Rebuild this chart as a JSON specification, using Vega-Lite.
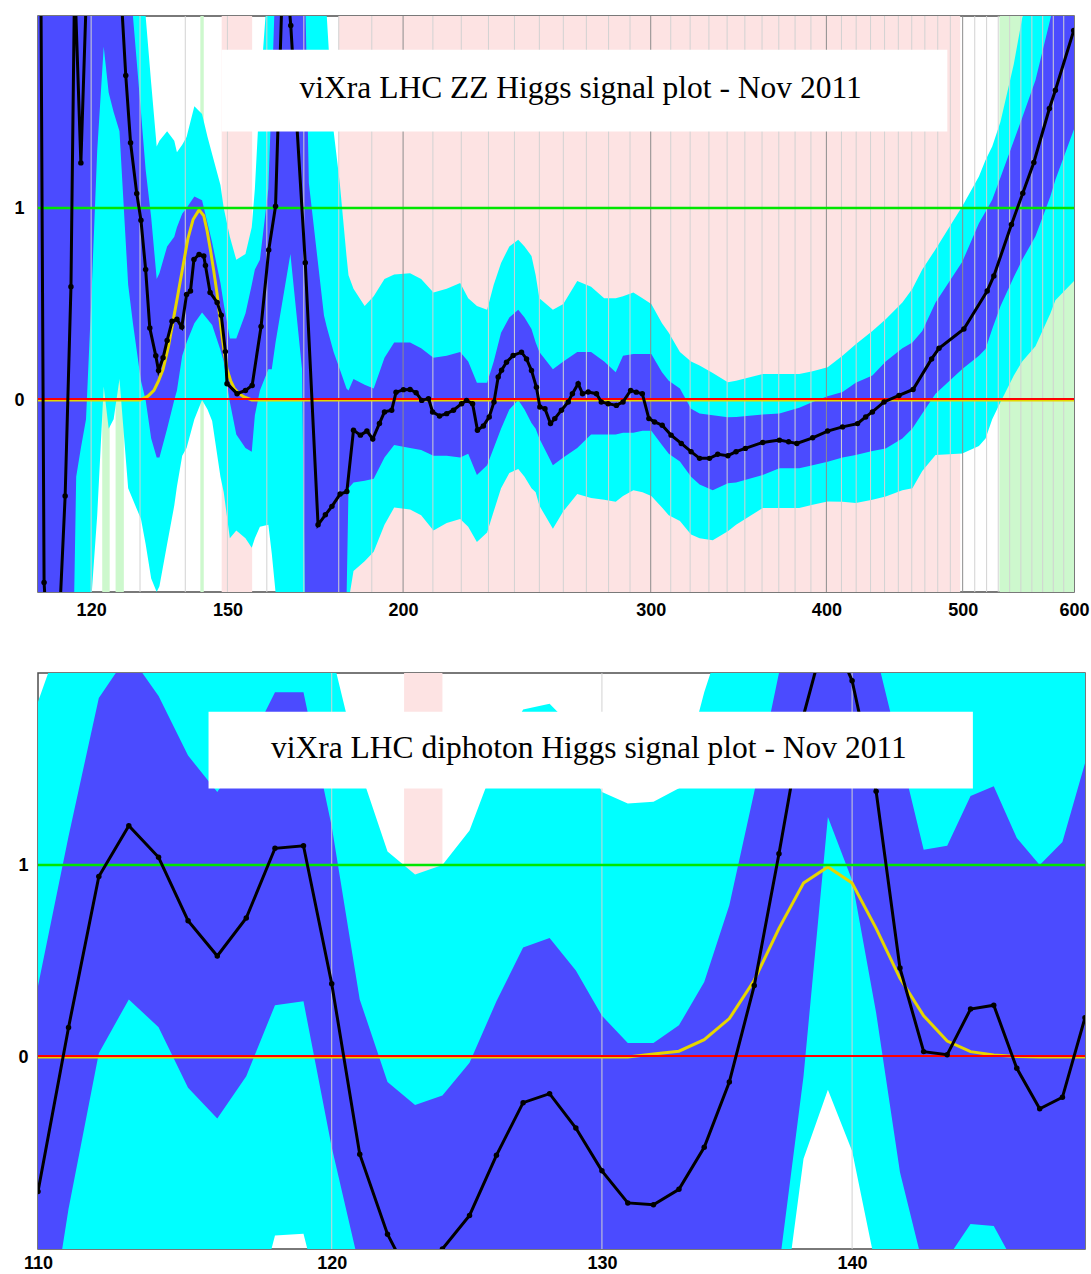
{
"$schema": "https://vega.github.io/schema/vega-lite/v6.json",
"padding": {"left": 13, "top": 14, "right": 0, "bottom": 0},
"background": "white",
"config": {
  "view": {"stroke": "#4d4d4d", "strokeWidth": 1.5},
  "axis": {"ticks": false, "tickSize": 0, "domain": false, "grid": false, "labelFont": "Liberation Sans", "labelFontSize": 18, "labelFontWeight": "bold", "labelColor": "#000000", "labelFlush": false, "labelOverlap": false, "labelBound": false, "title": null}
},
"datasets": {
  "top_bg": [
    {"lo": 148.6, "hi": 156.2, "kind": "pink"},
    {"lo": 180, "hi": 498, "kind": "pink"},
    {"lo": 122.2, "hi": 123.7, "kind": "green"},
    {"lo": 124.9, "hi": 126.6, "kind": "green"},
    {"lo": 143.5, "hi": 144.3, "kind": "green"},
    {"lo": 531, "hi": 600, "kind": "green"}
  ],
  "top_band": [
    {"m":110,"bl":-4,"bh":8,"cl":-6,"ch":10},
    {"m":111.1,"bl":-3.5,"bh":3,"cl":-6,"ch":6},
    {"m":114,"bl":-3.5,"bh":3,"cl":-6,"ch":6},
    {"m":116.1,"bl":-2,"bh":4,"cl":-4,"ch":6},
    {"m":117.1,"bl":-0.4,"bh":4,"cl":-1.8,"ch":6},
    {"m":118,"bl":-0.25,"bh":3.5,"cl":-1.5,"ch":6},
    {"m":119,"bl":-0.1,"bh":4,"cl":-1.3,"ch":6},
    {"m":120,"bl":0.5,"bh":5,"cl":-1.05,"ch":7},
    {"m":121.2,"bl":1.3,"bh":5,"cl":-0.6,"ch":7},
    {"m":122.5,"bl":1.84,"bh":5,"cl":0.07,"ch":7},
    {"m":123.5,"bl":1.6,"bh":5,"cl":-0.15,"ch":7},
    {"m":124.5,"bl":1.5,"bh":5,"cl":-0.1,"ch":7},
    {"m":125.7,"bl":1.4,"bh":5,"cl":0.11,"ch":7},
    {"m":127.5,"bl":0.6,"bh":3,"cl":-0.46,"ch":5},
    {"m":128.5,"bl":0.4,"bh":2.0,"cl":-0.52,"ch":4},
    {"m":130.2,"bl":0.1,"bh":1.5,"cl":-0.62,"ch":3},
    {"m":131.2,"bl":0.0,"bh":1.2,"cl":-0.75,"ch":2.0},
    {"m":132.4,"bl":-0.2,"bh":0.95,"cl":-0.93,"ch":1.65},
    {"m":133.6,"bl":-0.3,"bh":0.63,"cl":-1.0,"ch":1.32},
    {"m":134.2,"bl":-0.3,"bh":0.66,"cl":-0.97,"ch":1.35},
    {"m":135.9,"bl":-0.15,"bh":0.8,"cl":-0.75,"ch":1.4},
    {"m":137.5,"bl":0.0,"bh":0.85,"cl":-0.55,"ch":1.35},
    {"m":138.1,"bl":0.05,"bh":0.9,"cl":-0.45,"ch":1.29},
    {"m":139.3,"bl":0.23,"bh":0.97,"cl":-0.29,"ch":1.33},
    {"m":140.3,"bl":0.3,"bh":1.0,"cl":-0.25,"ch":1.37},
    {"m":142.1,"bl":0.4,"bh":1.06,"cl":-0.1,"ch":1.53},
    {"m":143.9,"bl":0.456,"bh":1.04,"cl":0.0,"ch":1.49},
    {"m":145.2,"bl":0.42,"bh":0.92,"cl":-0.05,"ch":1.37},
    {"m":146.3,"bl":0.39,"bh":0.82,"cl":-0.11,"ch":1.28},
    {"m":148.3,"bl":0.26,"bh":0.61,"cl":-0.4,"ch":1.12},
    {"m":149.1,"bl":0.2,"bh":0.5,"cl":-0.48,"ch":1.0},
    {"m":150.6,"bl":-0.01,"bh":0.32,"cl":-0.72,"ch":0.85},
    {"m":152.2,"bl":-0.18,"bh":0.32,"cl":-0.68,"ch":0.73},
    {"m":154.5,"bl":-0.25,"bh":0.45,"cl":-0.72,"ch":0.76},
    {"m":156.1,"bl":-0.27,"bh":0.6,"cl":-0.77,"ch":0.9},
    {"m":156.9,"bl":-0.08,"bh":0.68,"cl":-0.72,"ch":1.1},
    {"m":158.2,"bl":0.05,"bh":0.73,"cl":-0.66,"ch":1.6},
    {"m":160.4,"bl":0.16,"bh":1.1,"cl":-0.65,"ch":2.2},
    {"m":161.3,"bl":0.16,"bh":1.6,"cl":-0.8,"ch":2.6},
    {"m":162.3,"bl":0.3,"bh":2.2,"cl":-1.0,"ch":3.5},
    {"m":166.3,"bl":0.76,"bh":3.2,"cl":-1.5,"ch":4.5},
    {"m":169.5,"bl":0.16,"bh":2.3,"cl":-2.0,"ch":3.5},
    {"m":170.4,"bl":-1.2,"bh":2.1,"cl":-2.5,"ch":3.3},
    {"m":171.4,"bl":-1.5,"bh":1.13,"cl":-2.5,"ch":2.8},
    {"m":175.7,"bl":-2.0,"bh":0.44,"cl":-3,"ch":2.1},
    {"m":176.5,"bl":-1.9,"bh":0.38,"cl":-3,"ch":2.0},
    {"m":178.5,"bl":-1.5,"bh":0.25,"cl":-2.5,"ch":1.4},
    {"m":180.3,"bl":-1.2,"bh":0.16,"cl":-2,"ch":1.13},
    {"m":182.3,"bl":-1.05,"bh":0.06,"cl":-1.5,"ch":0.75},
    {"m":182.9,"bl":-0.46,"bh":0.05,"cl":-1.05,"ch":0.65},
    {"m":184.4,"bl":-0.43,"bh":0.11,"cl":-0.89,"ch":0.58},
    {"m":187.8,"bl":-0.42,"bh":0.08,"cl":-0.84,"ch":0.49},
    {"m":190.6,"bl":-0.41,"bh":0.06,"cl":-0.79,"ch":0.54},
    {"m":194,"bl":-0.3,"bh":0.22,"cl":-0.65,"ch":0.63},
    {"m":197.1,"bl":-0.235,"bh":0.3,"cl":-0.56,"ch":0.654},
    {"m":202.3,"bl":-0.25,"bh":0.3,"cl":-0.57,"ch":0.66},
    {"m":206,"bl":-0.26,"bh":0.27,"cl":-0.6,"ch":0.63},
    {"m":210.2,"bl":-0.29,"bh":0.22,"cl":-0.68,"ch":0.56},
    {"m":214.8,"bl":-0.29,"bh":0.23,"cl":-0.64,"ch":0.58},
    {"m":219.6,"bl":-0.3,"bh":0.25,"cl":-0.62,"ch":0.61},
    {"m":222.5,"bl":-0.28,"bh":0.2,"cl":-0.66,"ch":0.53},
    {"m":225.7,"bl":-0.39,"bh":0.09,"cl":-0.74,"ch":0.49},
    {"m":229.5,"bl":-0.34,"bh":0.09,"cl":-0.69,"ch":0.47},
    {"m":232,"bl":-0.25,"bh":0.2,"cl":-0.58,"ch":0.6},
    {"m":234.8,"bl":-0.15,"bh":0.35,"cl":-0.46,"ch":0.714},
    {"m":238,"bl":-0.05,"bh":0.43,"cl":-0.38,"ch":0.8},
    {"m":241.5,"bl":0.0,"bh":0.47,"cl":-0.36,"ch":0.835},
    {"m":244,"bl":-0.05,"bh":0.43,"cl":-0.4,"ch":0.8},
    {"m":246.8,"bl":-0.12,"bh":0.37,"cl":-0.46,"ch":0.75},
    {"m":248.5,"bl":-0.15,"bh":0.3,"cl":-0.48,"ch":0.65},
    {"m":250,"bl":-0.2,"bh":0.25,"cl":-0.55,"ch":0.53},
    {"m":255.6,"bl":-0.34,"bh":0.16,"cl":-0.67,"ch":0.47},
    {"m":260,"bl":-0.3,"bh":0.2,"cl":-0.58,"ch":0.5},
    {"m":266,"bl":-0.25,"bh":0.25,"cl":-0.49,"ch":0.62},
    {"m":272.1,"bl":-0.18,"bh":0.25,"cl":-0.51,"ch":0.59},
    {"m":278,"bl":-0.18,"bh":0.2,"cl":-0.52,"ch":0.53},
    {"m":283.3,"bl":-0.18,"bh":0.145,"cl":-0.53,"ch":0.53},
    {"m":286.7,"bl":-0.17,"bh":0.23,"cl":-0.5,"ch":0.54},
    {"m":291.6,"bl":-0.17,"bh":0.24,"cl":-0.47,"ch":0.56},
    {"m":296,"bl":-0.16,"bh":0.24,"cl":-0.48,"ch":0.53},
    {"m":300.3,"bl":-0.16,"bh":0.24,"cl":-0.5,"ch":0.5},
    {"m":305.6,"bl":-0.235,"bh":0.145,"cl":-0.56,"ch":0.4},
    {"m":309,"bl":-0.28,"bh":0.1,"cl":-0.6,"ch":0.35},
    {"m":314.7,"bl":-0.32,"bh":0.06,"cl":-0.63,"ch":0.25},
    {"m":320.5,"bl":-0.4,"bh":-0.045,"cl":-0.7,"ch":0.2},
    {"m":325,"bl":-0.44,"bh":-0.07,"cl":-0.72,"ch":0.18},
    {"m":332.1,"bl":-0.47,"bh":-0.08,"cl":-0.73,"ch":0.14},
    {"m":340.4,"bl":-0.433,"bh":-0.09,"cl":-0.684,"ch":0.093},
    {"m":345,"bl":-0.43,"bh":-0.088,"cl":-0.65,"ch":0.1},
    {"m":360.4,"bl":-0.39,"bh":-0.075,"cl":-0.563,"ch":0.136},
    {"m":370.4,"bl":-0.356,"bh":-0.07,"cl":-0.563,"ch":0.136},
    {"m":382.6,"bl":-0.356,"bh":-0.04,"cl":-0.563,"ch":0.136},
    {"m":391.1,"bl":-0.34,"bh":-0.01,"cl":-0.545,"ch":0.15},
    {"m":400.8,"bl":-0.321,"bh":0.02,"cl":-0.528,"ch":0.17},
    {"m":410.7,"bl":-0.3,"bh":0.042,"cl":-0.53,"ch":0.23},
    {"m":419.7,"bl":-0.287,"bh":0.09,"cl":-0.537,"ch":0.29},
    {"m":431.3,"bl":-0.265,"bh":0.128,"cl":-0.52,"ch":0.36},
    {"m":440.8,"bl":-0.252,"bh":0.2,"cl":-0.503,"ch":0.421},
    {"m":453,"bl":-0.2,"bh":0.27,"cl":-0.47,"ch":0.508},
    {"m":460.5,"bl":-0.148,"bh":0.3,"cl":-0.459,"ch":0.58},
    {"m":468,"bl":-0.07,"bh":0.36,"cl":-0.37,"ch":0.68},
    {"m":478.3,"bl":0.033,"bh":0.508,"cl":-0.287,"ch":0.785},
    {"m":499.7,"bl":0.162,"bh":0.72,"cl":-0.278,"ch":1.009},
    {"m":513.5,"bl":0.23,"bh":0.92,"cl":-0.24,"ch":1.164},
    {"m":519.1,"bl":0.266,"bh":0.98,"cl":-0.2,"ch":1.25},
    {"m":524.8,"bl":0.37,"bh":1.043,"cl":-0.1,"ch":1.32},
    {"m":532,"bl":0.49,"bh":1.16,"cl":-0.01,"ch":1.45},
    {"m":543.7,"bl":0.64,"bh":1.35,"cl":0.128,"ch":1.75},
    {"m":551.2,"bl":0.73,"bh":1.47,"cl":0.2,"ch":1.99},
    {"m":563.3,"bl":0.853,"bh":1.665,"cl":0.28,"ch":2.2},
    {"m":577.2,"bl":1.06,"bh":1.985,"cl":0.45,"ch":2.5},
    {"m":582,"bl":1.147,"bh":2.1,"cl":0.52,"ch":2.6},
    {"m":600,"bl":1.41,"bh":2.5,"cl":0.62,"ch":3.0}
  ],
  "top_grid_light": [
    {"m":120},{"m":130},{"m":140},{"m":150},{"m":160},{"m":170},{"m":180},{"m":190},
    {"m":210},{"m":220},{"m":230},{"m":240},{"m":250},{"m":260},{"m":270},{"m":280},{"m":290},
    {"m":310},{"m":320},{"m":330},{"m":340},{"m":350},{"m":360},{"m":370},{"m":380},{"m":390},
    {"m":410},{"m":420},{"m":430},{"m":440},{"m":450},{"m":460},{"m":470},{"m":480},{"m":490},
    {"m":510},{"m":520},{"m":530},{"m":540},{"m":550},{"m":560},{"m":570},{"m":580},{"m":590}
  ],
  "top_grid_dark": [{"m":200},{"m":300},{"m":400},{"m":500}],
  "top_signal": [
    {"m":110,"s":0},{"m":130,"s":0},{"m":131.7,"s":0.02},{"m":133,"s":0.05},{"m":134,"s":0.1},
    {"m":135,"s":0.16},{"m":136.2,"s":0.28},{"m":137.3,"s":0.42},{"m":138.4,"s":0.56},{"m":139.5,"s":0.7},
    {"m":140.6,"s":0.84},{"m":141.8,"s":0.94},{"m":143.2,"s":0.99},{"m":144.3,"s":0.96},{"m":145.1,"s":0.88},
    {"m":145.9,"s":0.78},{"m":146.7,"s":0.67},{"m":147.5,"s":0.55},{"m":148.1,"s":0.44},{"m":148.7,"s":0.33},
    {"m":149.3,"s":0.24},{"m":149.9,"s":0.16},{"m":150.8,"s":0.1},{"m":151.7,"s":0.06},{"m":152.8,"s":0.035},
    {"m":154,"s":0.017},{"m":156.1,"s":0},{"m":600,"s":0}
  ],
  "top_obs": [
    {"m":110,"v":5.0},{"m":111.1,"v":-0.95},{"m":112,"v":-1.4},{"m":113,"v":-1.6},{"m":114,"v":-1.1},
    {"m":115,"v":-0.5},{"m":116.1,"v":0.59},{"m":116.8,"v":2.2},{"m":118,"v":1.235},{"m":119,"v":2.06},
    {"m":120,"v":3.0},{"m":121,"v":4.0},{"m":122,"v":4.0},{"m":123,"v":4.0},{"m":124,"v":3.5},
    {"m":125,"v":3.0},{"m":126,"v":2.13},{"m":127,"v":1.69},{"m":128,"v":1.34},{"m":129.3,"v":1.076},
    {"m":130.2,"v":0.936},{"m":131.2,"v":0.68},{"m":132.1,"v":0.375},{"m":133.4,"v":0.23},{"m":134,"v":0.153},
    {"m":135,"v":0.22},{"m":135.9,"v":0.31},{"m":137,"v":0.41},{"m":138.1,"v":0.42},{"m":139.2,"v":0.38},
    {"m":140.3,"v":0.55},{"m":141.2,"v":0.568},{"m":142,"v":0.732},{"m":143.2,"v":0.758},{"m":144.3,"v":0.75},
    {"m":144.7,"v":0.7},{"m":145.8,"v":0.56},{"m":147.5,"v":0.508},{"m":148.5,"v":0.442},{"m":149.5,"v":0.252},
    {"m":149.9,"v":0.085},{"m":152.4,"v":0.033},{"m":154.5,"v":0.05},{"m":156.2,"v":0.076},{"m":158.5,"v":0.383},
    {"m":160.5,"v":0.781},{"m":162.3,"v":1.009},{"m":164.5,"v":2.4},{"m":166.4,"v":1.95},{"m":170.4,"v":0.715},
    {"m":174,"v":-0.65},{"m":176.1,"v":-0.598},{"m":178,"v":-0.554},{"m":180.4,"v":-0.49},{"m":182.4,"v":-0.477},
    {"m":184.4,"v":-0.157},{"m":186.5,"v":-0.183},{"m":188.5,"v":-0.162},{"m":190.3,"v":-0.203},{"m":192.4,"v":-0.122},
    {"m":194,"v":-0.062},{"m":196.3,"v":-0.053},{"m":197.7,"v":0.04},{"m":200.1,"v":0.054},{"m":202.3,"v":0.055},
    {"m":204.3,"v":0.038},{"m":206.2,"v":-0.002},{"m":208.5,"v":0.007},{"m":209.9,"v":-0.062},{"m":212.3,"v":-0.083},
    {"m":214.8,"v":-0.071},{"m":217.2,"v":-0.053},{"m":220.1,"v":-0.019},{"m":221.9,"v":-0.002},{"m":224.1,"v":-0.019},
    {"m":225.9,"v":-0.157},{"m":228.1,"v":-0.135},{"m":230.3,"v":-0.088},{"m":232.1,"v":-0.01},{"m":233.7,"v":0.12},
    {"m":235,"v":0.155},{"m":236.9,"v":0.197},{"m":239.5,"v":0.232},{"m":242.8,"v":0.249},{"m":244.8,"v":0.214},
    {"m":246.8,"v":0.154},{"m":248.8,"v":0.066},{"m":250.2,"v":-0.036},{"m":252.3,"v":-0.045},{"m":254.6,"v":-0.123},
    {"m":256.4,"v":-0.097},{"m":259.2,"v":-0.053},{"m":262.1,"v":-0.01},{"m":263.9,"v":0.033},{"m":266.4,"v":0.085},
    {"m":268.3,"v":0.033},{"m":270.8,"v":0.042},{"m":274.5,"v":0.033},{"m":276.7,"v":-0.01},{"m":279.8,"v":-0.019},
    {"m":283.6,"v":-0.028},{"m":286.7,"v":-0.01},{"m":290.3,"v":0.05},{"m":293,"v":0.041},{"m":295.9,"v":0.033},
    {"m":299.1,"v":-0.097},{"m":301.9,"v":-0.114},{"m":305.7,"v":-0.131},{"m":310.2,"v":-0.183},{"m":315.4,"v":-0.226},
    {"m":320.5,"v":-0.269},{"m":325,"v":-0.304},{"m":330.3,"v":-0.304},{"m":334.8,"v":-0.283},{"m":340.4,"v":-0.29},
    {"m":345,"v":-0.269},{"m":350.3,"v":-0.252},{"m":360.4,"v":-0.221},{"m":370.4,"v":-0.209},{"m":376,"v":-0.218},
    {"m":381.1,"v":-0.226},{"m":391.1,"v":-0.197},{"m":400.8,"v":-0.162},{"m":410.7,"v":-0.14},{"m":420.9,"v":-0.123},
    {"m":426.6,"v":-0.088},{"m":431.3,"v":-0.062},{"m":439.6,"v":-0.01},{"m":450.5,"v":0.024},{"m":461,"v":0.055},
    {"m":475.2,"v":0.214},{"m":481,"v":0.269},{"m":501,"v":0.37},{"m":520.5,"v":0.568},{"m":526.2,"v":0.646},
    {"m":541.6,"v":0.914},{"m":551.7,"v":1.077},{"m":561.8,"v":1.237},{"m":576.3,"v":1.518},{"m":582,"v":1.613},
    {"m":599.7,"v":1.924}
  ],
  "top_box": [{"x1":148.6,"x2":487.6,"y1":1.399,"y2":1.824}],
  "top_title": [{"m":267.5,"v":1.62,"label":"viXra LHC ZZ Higgs signal plot - Nov 2011"}],
  "zero_line": [{"v":0}],
  "one_line": [{"v":1}],
  "bot_bg": [{"lo":122.6,"hi":124.0,"kind":"pink"}],
  "bot_band": [
    {"m":110,"bl":-1.8,"bh":0.37,"cl":-3,"ch":1.85},
    {"m":111,"bl":-0.79,"bh":1.15,"cl":-2.5,"ch":2.3},
    {"m":112,"bl":0.02,"bh":1.87,"cl":-2,"ch":2.5},
    {"m":113,"bl":0.3,"bh":2.1,"cl":-1.5,"ch":2.6},
    {"m":114,"bl":0.155,"bh":1.88,"cl":-1.5,"ch":2.5},
    {"m":115,"bl":-0.16,"bh":1.57,"cl":-1.8,"ch":2.4},
    {"m":116,"bl":-0.32,"bh":1.38,"cl":-1.8,"ch":2.4},
    {"m":117,"bl":-0.1,"bh":1.6,"cl":-1.5,"ch":2.5},
    {"m":118,"bl":0.27,"bh":1.9,"cl":-0.93,"ch":2.6},
    {"m":119,"bl":0.29,"bh":1.9,"cl":-0.92,"ch":2.6},
    {"m":120,"bl":-0.47,"bh":1.2,"cl":-1.5,"ch":2.1},
    {"m":121,"bl":-1.1,"bh":0.3,"cl":-2.2,"ch":1.5},
    {"m":122,"bl":-1.6,"bh":-0.13,"cl":-2.5,"ch":1.07},
    {"m":123,"bl":-1.8,"bh":-0.25,"cl":-2.6,"ch":0.95},
    {"m":124,"bl":-1.7,"bh":-0.2,"cl":-2.5,"ch":1.0},
    {"m":125,"bl":-1.6,"bh":-0.03,"cl":-2.4,"ch":1.18},
    {"m":126,"bl":-1.4,"bh":0.29,"cl":-2.3,"ch":1.55},
    {"m":127,"bl":-1.2,"bh":0.57,"cl":-2.1,"ch":1.81},
    {"m":128,"bl":-1.1,"bh":0.62,"cl":-2.0,"ch":1.84},
    {"m":129,"bl":-1.3,"bh":0.45,"cl":-2.2,"ch":1.7},
    {"m":130,"bl":-1.5,"bh":0.215,"cl":-2.4,"ch":1.38},
    {"m":131,"bl":-1.6,"bh":0.073,"cl":-2.5,"ch":1.32},
    {"m":132,"bl":-1.6,"bh":0.073,"cl":-2.5,"ch":1.33},
    {"m":133,"bl":-1.5,"bh":0.165,"cl":-2.4,"ch":1.4},
    {"m":134,"bl":-1.3,"bh":0.39,"cl":-2.2,"ch":1.9},
    {"m":135,"bl":-1.2,"bh":0.79,"cl":-2.0,"ch":2.3},
    {"m":136,"bl":-1.1,"bh":1.38,"cl":-1.8,"ch":2.7},
    {"m":137,"bl":-1.1,"bh":2.0,"cl":-1.5,"ch":3.0},
    {"m":138,"bl":-0.1,"bh":2.5,"cl":-0.53,"ch":3.5},
    {"m":139,"bl":1.25,"bh":2.9,"cl":-0.17,"ch":3.8},
    {"m":140,"bl":0.92,"bh":2.7,"cl":-0.49,"ch":3.6},
    {"m":141,"bl":0.23,"bh":2.1,"cl":-1.1,"ch":3.0},
    {"m":142,"bl":-0.6,"bh":1.59,"cl":-1.6,"ch":2.6},
    {"m":143,"bl":-1.1,"bh":1.08,"cl":-2.0,"ch":2.2},
    {"m":144,"bl":-1.05,"bh":1.1,"cl":-2.0,"ch":2.2},
    {"m":145,"bl":-0.87,"bh":1.36,"cl":-1.8,"ch":2.5},
    {"m":146,"bl":-0.88,"bh":1.41,"cl":-1.8,"ch":2.5},
    {"m":147,"bl":-1.1,"bh":1.14,"cl":-2.0,"ch":2.3},
    {"m":148,"bl":-1.2,"bh":1.0,"cl":-2.1,"ch":2.1},
    {"m":149,"bl":-1.2,"bh":1.12,"cl":-2.1,"ch":2.2},
    {"m":150,"bl":-1.2,"bh":1.53,"cl":-2.1,"ch":2.6}
  ],
  "bot_grid": [{"m":120},{"m":130},{"m":140}],
  "bot_signal": [
    {"m":110,"s":0},{"m":131,"s":0},{"m":132,"s":0.016},{"m":133,"s":0.03},{"m":134,"s":0.09},
    {"m":135,"s":0.2},{"m":136,"s":0.4},{"m":137,"s":0.67},{"m":138,"s":0.906},{"m":139,"s":0.99},
    {"m":140,"s":0.906},{"m":141,"s":0.67},{"m":142,"s":0.41},{"m":143,"s":0.215},{"m":144,"s":0.083},
    {"m":145,"s":0.028},{"m":146,"s":0.01},{"m":147,"s":0.003},{"m":148,"s":0},{"m":150,"s":0}
  ],
  "bot_obs": [
    {"m":110,"v":-0.7},{"m":111,"v":0.154},{"m":112,"v":0.94},{"m":113,"v":1.205},{"m":114,"v":1.04},
    {"m":115,"v":0.71},{"m":116,"v":0.526},{"m":117,"v":0.724},{"m":118,"v":1.087},{"m":119,"v":1.1},
    {"m":120,"v":0.382},{"m":121,"v":-0.506},{"m":122,"v":-0.923},{"m":123,"v":-1.2},{"m":124,"v":-1.0},
    {"m":125,"v":-0.825},{"m":126,"v":-0.512},{"m":127,"v":-0.238},{"m":128,"v":-0.191},{"m":129,"v":-0.37},
    {"m":130,"v":-0.593},{"m":131,"v":-0.76},{"m":132,"v":-0.77},{"m":133,"v":-0.689},{"m":134,"v":-0.47},
    {"m":135,"v":-0.13},{"m":136,"v":0.372},{"m":137,"v":1.059},{"m":138,"v":1.78},{"m":139,"v":2.25},
    {"m":140,"v":1.96},{"m":141,"v":1.384},{"m":142,"v":0.463},{"m":143,"v":0.028},{"m":144,"v":0.012},
    {"m":145,"v":0.25},{"m":146,"v":0.27},{"m":147,"v":-0.059},{"m":148,"v":-0.27},{"m":149,"v":-0.21},
    {"m":150,"v":0.205}
  ],
  "bot_box": [{"x1":115.7,"x2":145.1,"y1":1.399,"y2":1.798}],
  "bot_title": [{"m":129.5,"v":1.606,"label":"viXra LHC diphoton Higgs signal plot - Nov 2011"}]
},
"concat": [
  {
    "width": 1036, "height": 576,
    "layer": [
      {"data": {"name": "top_bg"}, "mark": {"type": "rect", "clip": true},
       "encoding": {
         "x": {"field": "lo", "type": "quantitative", "scale": {"type": "log", "domain": [110, 600], "nice": false}, "axis": {"values": [120,150,200,300,400,500,600], "title": null, "labelPadding": 9}},
         "x2": {"field": "hi"},
         "color": {"field": "kind", "type": "nominal", "scale": {"domain": ["pink","green"], "range": ["#fde3e3","#cdf8cd"]}, "legend": null}}},
      {"data": {"name": "top_band"}, "mark": {"type": "area", "color": "#00ffff", "clip": true, "opacity": 1},
       "encoding": {
         "x": {"field": "m", "type": "quantitative", "scale": {"type": "log", "domain": [110, 600], "nice": false}, "axis": {"values": [120,150,200,300,400,500,600], "title": null, "labelPadding": 9}},
         "y": {"field": "cl", "type": "quantitative", "scale": {"domain": [-1, 2], "nice": false, "zero": false}, "axis": {"values": [0, 1], "title": null, "labelPadding": 14}},
         "y2": {"field": "ch"}}},
      {"data": {"name": "top_band"}, "mark": {"type": "area", "color": "#4b4bff", "clip": true, "opacity": 1},
       "encoding": {
         "x": {"field": "m", "type": "quantitative", "scale": {"type": "log", "domain": [110, 600], "nice": false}, "axis": {"values": [120,150,200,300,400,500,600], "title": null, "labelPadding": 9}},
         "y": {"field": "bl", "type": "quantitative", "scale": {"domain": [-1, 2], "nice": false, "zero": false}, "axis": {"values": [0, 1], "title": null, "labelPadding": 14}},
         "y2": {"field": "bh"}}},
      {"data": {"name": "top_grid_light"}, "mark": {"type": "rule", "color": "#d2d2d2", "strokeWidth": 1},
       "encoding": {"x": {"field": "m", "type": "quantitative", "scale": {"type": "log", "domain": [110, 600], "nice": false}, "axis": {"values": [120,150,200,300,400,500,600], "title": null, "labelPadding": 9}}}},
      {"data": {"name": "top_grid_dark"}, "mark": {"type": "rule", "color": "#8c8c8c", "strokeWidth": 1},
       "encoding": {"x": {"field": "m", "type": "quantitative", "scale": {"type": "log", "domain": [110, 600], "nice": false}, "axis": {"values": [120,150,200,300,400,500,600], "title": null, "labelPadding": 9}}}},
      {"data": {"name": "top_signal"}, "mark": {"type": "line", "color": "#e6d600", "strokeWidth": 3, "clip": true},
       "encoding": {
         "x": {"field": "m", "type": "quantitative", "scale": {"type": "log", "domain": [110, 600], "nice": false}, "axis": {"values": [120,150,200,300,400,500,600], "title": null, "labelPadding": 9}},
         "y": {"field": "s", "type": "quantitative", "scale": {"domain": [-1, 2], "nice": false, "zero": false}, "axis": {"values": [0, 1], "title": null, "labelPadding": 14}}}},
      {"data": {"name": "zero_line"}, "mark": {"type": "rule", "color": "#ff0000", "strokeWidth": 2, "yOffset": -1},
       "encoding": {"y": {"field": "v", "type": "quantitative", "scale": {"domain": [-1, 2], "nice": false, "zero": false}, "axis": {"values": [0, 1], "title": null, "labelPadding": 14}}}},
      {"data": {"name": "one_line"}, "mark": {"type": "rule", "color": "#00e600", "strokeWidth": 2.5},
       "encoding": {"y": {"field": "v", "type": "quantitative", "scale": {"domain": [-1, 2], "nice": false, "zero": false}, "axis": {"values": [0, 1], "title": null, "labelPadding": 14}}}},
      {"data": {"name": "top_obs"}, "mark": {"type": "line", "color": "#000000", "strokeWidth": 3, "clip": true},
       "encoding": {
         "x": {"field": "m", "type": "quantitative", "scale": {"type": "log", "domain": [110, 600], "nice": false}, "axis": {"values": [120,150,200,300,400,500,600], "title": null, "labelPadding": 9}},
         "y": {"field": "v", "type": "quantitative", "scale": {"domain": [-1, 2], "nice": false, "zero": false}, "axis": {"values": [0, 1], "title": null, "labelPadding": 14}}}},
      {"data": {"name": "top_obs"}, "mark": {"type": "circle", "color": "#000000", "size": 30, "opacity": 1, "clip": true},
       "encoding": {
         "x": {"field": "m", "type": "quantitative", "scale": {"type": "log", "domain": [110, 600], "nice": false}, "axis": {"values": [120,150,200,300,400,500,600], "title": null, "labelPadding": 9}},
         "y": {"field": "v", "type": "quantitative", "scale": {"domain": [-1, 2], "nice": false, "zero": false}, "axis": {"values": [0, 1], "title": null, "labelPadding": 14}}}},
      {"data": {"name": "top_box"}, "mark": {"type": "rect", "color": "#ffffff", "opacity": 1},
       "encoding": {
         "x": {"field": "x1", "type": "quantitative", "scale": {"type": "log", "domain": [110, 600], "nice": false}, "axis": {"values": [120,150,200,300,400,500,600], "title": null, "labelPadding": 9}},
         "x2": {"field": "x2"},
         "y": {"field": "y1", "type": "quantitative", "scale": {"domain": [-1, 2], "nice": false, "zero": false}, "axis": {"values": [0, 1], "title": null, "labelPadding": 14}},
         "y2": {"field": "y2"}}},
      {"data": {"name": "top_title"}, "mark": {"type": "text", "font": "Liberation Serif", "fontSize": 31.5, "color": "#000000", "align": "center", "baseline": "middle"},
       "encoding": {
         "x": {"field": "m", "type": "quantitative", "scale": {"type": "log", "domain": [110, 600], "nice": false}, "axis": {"values": [120,150,200,300,400,500,600], "title": null, "labelPadding": 9}},
         "y": {"field": "v", "type": "quantitative", "scale": {"domain": [-1, 2], "nice": false, "zero": false}, "axis": {"values": [0, 1], "title": null, "labelPadding": 14}},
         "text": {"field": "label"}}}
    ]
  },
  {
    "width": 1047, "height": 576,
    "layer": [
      {"data": {"name": "bot_bg"}, "mark": {"type": "rect", "clip": true, "color": "#fde3e3"},
       "encoding": {
         "x": {"field": "lo", "type": "quantitative", "scale": {"type": "log", "domain": [110, 150], "nice": false}, "axis": {"values": [110,120,130,140], "title": null, "labelPadding": 5}},
         "x2": {"field": "hi"}}},
      {"data": {"name": "bot_band"}, "mark": {"type": "area", "color": "#00ffff", "clip": true, "opacity": 1},
       "encoding": {
         "x": {"field": "m", "type": "quantitative", "scale": {"type": "log", "domain": [110, 150], "nice": false}, "axis": {"values": [110,120,130,140], "title": null, "labelPadding": 5}},
         "y": {"field": "cl", "type": "quantitative", "scale": {"domain": [-1, 2], "nice": false, "zero": false}, "axis": {"values": [0, 1], "title": null, "labelPadding": 10}},
         "y2": {"field": "ch"}}},
      {"data": {"name": "bot_band"}, "mark": {"type": "area", "color": "#4b4bff", "clip": true, "opacity": 1},
       "encoding": {
         "x": {"field": "m", "type": "quantitative", "scale": {"type": "log", "domain": [110, 150], "nice": false}, "axis": {"values": [110,120,130,140], "title": null, "labelPadding": 5}},
         "y": {"field": "bl", "type": "quantitative", "scale": {"domain": [-1, 2], "nice": false, "zero": false}, "axis": {"values": [0, 1], "title": null, "labelPadding": 10}},
         "y2": {"field": "bh"}}},
      {"data": {"name": "bot_grid"}, "mark": {"type": "rule", "color": "#d2d2d2", "strokeWidth": 1},
       "encoding": {"x": {"field": "m", "type": "quantitative", "scale": {"type": "log", "domain": [110, 150], "nice": false}, "axis": {"values": [110,120,130,140], "title": null, "labelPadding": 5}}}},
      {"data": {"name": "bot_signal"}, "mark": {"type": "line", "color": "#e6d600", "strokeWidth": 3, "clip": true},
       "encoding": {
         "x": {"field": "m", "type": "quantitative", "scale": {"type": "log", "domain": [110, 150], "nice": false}, "axis": {"values": [110,120,130,140], "title": null, "labelPadding": 5}},
         "y": {"field": "s", "type": "quantitative", "scale": {"domain": [-1, 2], "nice": false, "zero": false}, "axis": {"values": [0, 1], "title": null, "labelPadding": 10}}}},
      {"data": {"name": "zero_line"}, "mark": {"type": "rule", "color": "#ff0000", "strokeWidth": 2, "yOffset": -1},
       "encoding": {"y": {"field": "v", "type": "quantitative", "scale": {"domain": [-1, 2], "nice": false, "zero": false}, "axis": {"values": [0, 1], "title": null, "labelPadding": 10}}}},
      {"data": {"name": "one_line"}, "mark": {"type": "rule", "color": "#00e600", "strokeWidth": 2.5},
       "encoding": {"y": {"field": "v", "type": "quantitative", "scale": {"domain": [-1, 2], "nice": false, "zero": false}, "axis": {"values": [0, 1], "title": null, "labelPadding": 10}}}},
      {"data": {"name": "bot_obs"}, "mark": {"type": "line", "color": "#000000", "strokeWidth": 3, "clip": true},
       "encoding": {
         "x": {"field": "m", "type": "quantitative", "scale": {"type": "log", "domain": [110, 150], "nice": false}, "axis": {"values": [110,120,130,140], "title": null, "labelPadding": 5}},
         "y": {"field": "v", "type": "quantitative", "scale": {"domain": [-1, 2], "nice": false, "zero": false}, "axis": {"values": [0, 1], "title": null, "labelPadding": 10}}}},
      {"data": {"name": "bot_obs"}, "mark": {"type": "circle", "color": "#000000", "size": 30, "opacity": 1, "clip": true},
       "encoding": {
         "x": {"field": "m", "type": "quantitative", "scale": {"type": "log", "domain": [110, 150], "nice": false}, "axis": {"values": [110,120,130,140], "title": null, "labelPadding": 5}},
         "y": {"field": "v", "type": "quantitative", "scale": {"domain": [-1, 2], "nice": false, "zero": false}, "axis": {"values": [0, 1], "title": null, "labelPadding": 10}}}},
      {"data": {"name": "bot_box"}, "mark": {"type": "rect", "color": "#ffffff", "opacity": 1},
       "encoding": {
         "x": {"field": "x1", "type": "quantitative", "scale": {"type": "log", "domain": [110, 150], "nice": false}, "axis": {"values": [110,120,130,140], "title": null, "labelPadding": 5}},
         "x2": {"field": "x2"},
         "y": {"field": "y1", "type": "quantitative", "scale": {"domain": [-1, 2], "nice": false, "zero": false}, "axis": {"values": [0, 1], "title": null, "labelPadding": 10}},
         "y2": {"field": "y2"}}},
      {"data": {"name": "bot_title"}, "mark": {"type": "text", "font": "Liberation Serif", "fontSize": 31.5, "color": "#000000", "align": "center", "baseline": "middle"},
       "encoding": {
         "x": {"field": "m", "type": "quantitative", "scale": {"type": "log", "domain": [110, 150], "nice": false}, "axis": {"values": [110,120,130,140], "title": null, "labelPadding": 5}},
         "y": {"field": "v", "type": "quantitative", "scale": {"domain": [-1, 2], "nice": false, "zero": false}, "axis": {"values": [0, 1], "title": null, "labelPadding": 10}},
         "text": {"field": "label"}}}
    ]
  }
],
"columns": 1,
"align": "none",
"spacing": 51
}
